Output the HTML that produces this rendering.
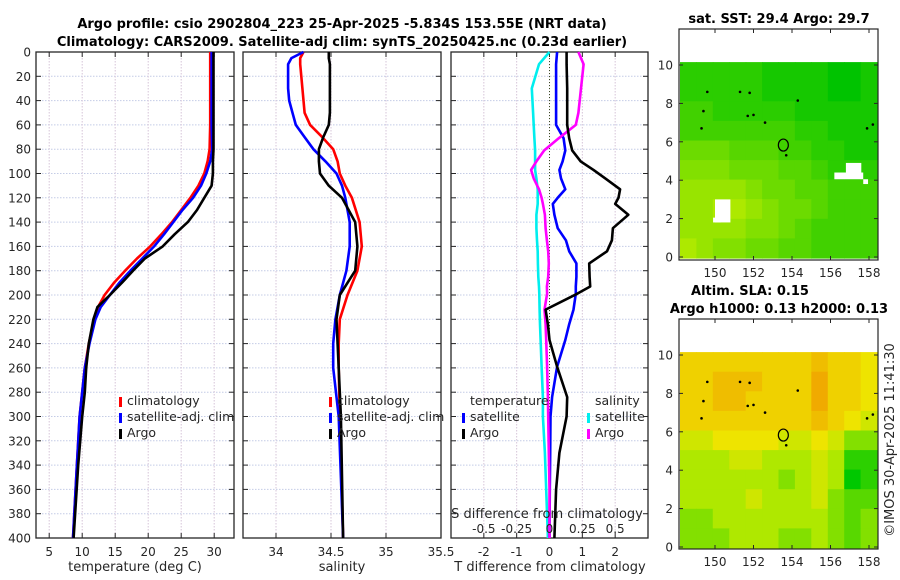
<!DOCTYPE html>
<html><head><meta charset="utf-8"><style>
body{margin:0;background:#fff}
svg{display:block;font-family:"DejaVu Sans","Liberation Sans",sans-serif}
</style></head><body>
<svg id="s" width="900" height="580" viewBox="0 0 900 580" xmlns="http://www.w3.org/2000/svg">
<text x="342" y="28" font-size="13" font-weight="bold" text-anchor="middle">Argo profile: csio 2902804_223 25-Apr-2025 -5.834S 153.55E (NRT data)</text>
<text x="342" y="46" font-size="13" font-weight="bold" text-anchor="middle">Climatology: CARS2009. Satellite-adj clim: synTS_20250425.nc (0.23d earlier)</text>
<text x="779" y="23" font-size="13" font-weight="bold" text-anchor="middle">sat. SST: 29.4 Argo: 29.7</text>
<text x="750" y="295" font-size="13" font-weight="bold" text-anchor="middle">Altim. SLA: 0.15</text>
<text x="779" y="313" font-size="13" font-weight="bold" text-anchor="middle">Argo h1000: 0.13 h2000: 0.13</text>
<text transform="translate(894,440) rotate(-90)" font-size="13" fill="#262626" text-anchor="middle">©IMOS 30-Apr-2025 11:41:30</text>
</svg>
<script>
// ---- data ----
const depths=[0,20,40,60,80,90,100,110,120,130,140,150,160,170,180,190,200,210,220,240,260,280,300,340,400];
const tempClim=[29.4,29.4,29.4,29.4,29.3,29.0,28.5,27.6,26.4,25.0,23.6,22.0,20.3,18.3,16.5,14.8,13.4,12.4,11.8,11.0,10.4,10.0,9.6,9.2,8.6];
const tempSat=[29.6,29.6,29.6,29.6,29.7,29.4,28.8,28.0,26.8,25.2,23.8,22.4,20.9,19.1,17.3,15.6,14.2,12.8,12.0,11.1,10.4,10.0,9.6,9.2,8.6];
const tempArgo=[29.9,29.9,29.9,29.9,29.9,29.8,29.8,29.6,28.5,27.4,26.0,24.0,22.2,19.5,17.7,16.0,14.2,12.3,11.7,11.0,10.6,10.4,10.0,9.4,8.7];
const salDepths=[0,5,10,20,30,40,50,60,70,80,90,100,110,120,140,160,180,200,220,240,260,300,400];
const salClim=[34.25,34.22,34.22,34.23,34.24,34.25,34.26,34.31,34.42,34.52,34.56,34.58,34.63,34.69,34.76,34.78,34.74,34.65,34.58,34.57,34.57,34.58,34.61];
const salSat=[34.25,34.14,34.11,34.11,34.11,34.12,34.15,34.18,34.26,34.34,34.45,34.55,34.60,34.63,34.67,34.67,34.64,34.58,34.54,34.52,34.52,34.57,34.61];
const salArgo=[34.48,34.48,34.49,34.49,34.49,34.49,34.49,34.48,34.43,34.39,34.39,34.40,34.48,34.60,34.72,34.74,34.72,34.58,34.55,34.56,34.57,34.59,34.61];
const diffDepths=[0,10,30,50,60,71,81,90,97,104,113,120,125,134,145,155,164,174,185,193,199,212,224,237,259,284,300,330,360,400];
const dTSat=[0.23,0.2,0.2,0.2,0.2,0.43,0.48,0.4,0.3,0.35,0.48,0.25,0.1,0.15,0.25,0.5,0.6,0.82,0.82,0.8,0.8,0.73,0.6,0.48,0.23,0.08,0.03,0.02,0.01,0.0];
const dTArgo=[0.52,0.52,0.54,0.54,0.54,0.6,0.69,0.95,1.34,1.7,2.15,2.1,2.0,2.4,1.93,1.9,1.75,1.21,1.22,1.24,0.84,-0.12,-0.05,0.0,0.23,0.54,0.52,0.3,0.2,0.15];
const dSSat=[0,-0.08,-0.135,-0.125,-0.12,-0.115,-0.11,-0.11,-0.11,-0.1,-0.09,-0.09,-0.09,-0.1,-0.1,-0.095,-0.09,-0.088,-0.085,-0.08,-0.078,-0.075,-0.072,-0.068,-0.06,-0.05,-0.05,-0.035,-0.025,-0.012];
const dSArgo=[0.22,0.26,0.24,0.22,0.2,0.07,-0.04,-0.1,-0.14,-0.12,-0.08,-0.06,-0.05,-0.035,-0.03,-0.02,-0.01,-0.005,-0.01,-0.02,-0.018,-0.038,-0.03,-0.025,-0.018,-0.012,-0.01,-0.005,0.0,0.0];
const depthTicks=[0,20,40,60,80,100,120,140,160,180,200,220,240,260,280,300,320,340,360,380,400];
const tTicks=[5,10,15,20,25,30];
const sTicks=[34,34.5,35,35.5];
const dTicks=[-2,-1,0,1,2];
const dSTickLabels=["-0.5","-0.25","0","0.25","0.5"];
const dSTickValues=[-0.5,-0.25,0,0.25,0.5];
const lonTicks=[150,152,154,156,158];
const latTicks=[0,2,4,6,8,10];
const sstGrid=[
[2,2,2,2,2,1,1,1,1,0,0,1],
[2,2,2,2,2,1,1,1,1,0,0,1],
[3,3,2,2,2,2,2,1,1,1,1,1],
[3,3,3,3,3,3,3,2,2,1,1,1],
[5,5,5,4,4,4,3,3,2,2,1,1],
[6,6,6,5,5,5,4,4,3,2,2,2],
[7,7,7,7,6,5,5,4,4,3,3,3],
[7,7,8,8,7,6,5,5,4,3,3,3],
[7,7,7,7,6,6,5,4,3,3,3,3],
[8,7,6,6,5,5,4,4,3,3,3,3]];
const slaGrid=[
[7,7,7,7,7,7,7,7,8,7,7,6],
[7,7,8,8,8,7,7,7,9,7,7,6],
[7,7,8,8,7,7,7,7,9,7,7,6],
[7,7,7,7,7,7,7,7,8,7,6,5],
[5,5,6,6,6,6,5,5,6,5,3,3],
[4,4,4,5,5,4,4,4,5,4,1,1],
[4,4,4,4,4,4,3,4,5,4,0,1],
[4,4,4,4,5,4,4,4,5,3,2,2],
[3,3,4,4,4,4,4,4,4,3,2,3],
[3,3,3,4,4,4,3,3,4,3,2,3]];
const argoLon=153.55, argoLat=5.83;

// ---- drawing ----
const S=document.getElementById('s'),NS='http://www.w3.org/2000/svg';
function mk(t,a,p){const e=document.createElementNS(NS,t);for(const k in a)e.setAttribute(k,a[k]);(p||S).appendChild(e);return e;}
const Y0=52,Y1=538;
const yD=d=>Y0+d/400*(Y1-Y0);
function scale(a,b,p0,p1){return v=>p0+(v-a)/(b-a)*(p1-p0);}
const xT=scale(3,33,36,234), xS=scale(33.7,35.5,243,441), xD=scale(-3,3,451,648), xDS=scale(-0.75,0.75,451,648);

function frame(x0,x1,ticks,xf,name){
  const g=mk('g',{});
  
  
  depthTicks.forEach(d=>{
    if(d>0&&d<400){const l=mk('line',{x1:x0,x2:x1,y1:yD(d),y2:yD(d),stroke:'#c4cce6','stroke-width':1,'stroke-dasharray':'1.5,1.5'},g);
    }
    mk('line',{x1:x0,x2:x0+5,y1:yD(d),y2:yD(d),stroke:'#262626'},g);
    mk('line',{x1:x1-5,x2:x1,y1:yD(d),y2:yD(d),stroke:'#262626'},g);
  });
  ticks.forEach(v=>{
    const x=xf(v);
    if(x>x0+1&&x<x1-1){const l=mk('line',{x1:x,x2:x,y1:Y0,y2:Y1,stroke:'#d6c4d8','stroke-width':1,'stroke-dasharray':'1.5,1.5'},g);
    }
    mk('line',{x1:x,x2:x,y1:Y1,y2:Y1-5,stroke:'#262626'},g);
    mk('line',{x1:x,x2:x,y1:Y0,y2:Y0+5,stroke:'#262626'},g);
    const t=mk('text',{x:x,y:556,'font-size':12,fill:'#262626','text-anchor':'middle'},g);t.textContent=String(v);
    
  });
  const r=mk('rect',{x:x0,y:Y0,width:x1-x0,height:Y1-Y0,fill:'none',stroke:'#262626','stroke-width':1.3},g);
  
}
function line(xs,ds,xf,col,name,w){
  const pts=xs.map((v,i)=>xf(v).toFixed(1)+','+yD(ds[i]).toFixed(1)).join(' ');
  const p=mk('polyline',{points:pts,fill:'none',stroke:col,'stroke-width':w||2.6,'stroke-linejoin':'round'});
  
  
}
function txt(x,y,s,name,opt){const t=mk('text',Object.assign({x:x,y:y,'font-size':12.5,fill:'#262626'},opt||{}));t.textContent=s;
  return t;}
function legMark(x,y,col,name){const r=mk('rect',{x:x,y:y-10,width:3,height:10,fill:col});
  }

// y labels
depthTicks.forEach(d=>{const t=txt(31,yD(d)+4.5,String(d),'y-tick-label',{'text-anchor':'end','font-size':12});});

frame(36,234,tTicks,xT,'temperature');
frame(243,441,sTicks,xS,'salinity');
frame(451,648,dTicks,xD,'difference');
// zero line
const z=mk('line',{x1:xD(0),x2:xD(0),y1:Y0,y2:Y1,stroke:'#3a4a20','stroke-width':1,'stroke-dasharray':'1,2'});


line(tempClim,depths,xT,'#ff0000','temp-climatology-line');
line(tempSat,depths,xT,'#0000ff','temp-satellite-line');
line(tempArgo,depths,xT,'#000000','temp-argo-line');
line(salClim,salDepths,xS,'#ff0000','sal-climatology-line');
line(salSat,salDepths,xS,'#0000ff','sal-satellite-line');
line(salArgo,salDepths,xS,'#000000','sal-argo-line');
line(dSSat,diffDepths,xDS,'#00eeee','sdiff-satellite-line');
line(dTSat,diffDepths,xD,'#0000ff','tdiff-satellite-line');
line(dSArgo,diffDepths,xDS,'#ff00ff','sdiff-argo-line');
line(dTArgo,diffDepths,xD,'#000000','tdiff-argo-line');

txt(135,571,'temperature (deg C)','temperature-axis-title',{'text-anchor':'middle','font-size':13});
txt(342,571,'salinity','salinity-axis-title',{'text-anchor':'middle','font-size':13});
txt(550,571,'T difference from climatology','tdiff-axis-title',{'text-anchor':'middle','font-size':13});
txt(547,518,'S difference from climatology','sdiff-axis-title',{'text-anchor':'middle','font-size':13});
dSTickValues.forEach((v,i)=>txt(xDS(v),533,dSTickLabels[i],'sdiff-tick-label',{'text-anchor':'middle','font-size':12}));

// legends
legMark(119,407,'#ff0000','legend-climatology-mark');txt(127,405,'climatology','legend-climatology');
legMark(119,423,'#0000ff','legend-satellite-mark');txt(127,421,'satellite-adj. clim','legend-satellite');
legMark(119,439,'#000000','legend-argo-mark');txt(127,437,'Argo','legend-argo');
legMark(329,407,'#ff0000','legend2-climatology-mark');txt(337,405,'climatology','legend2-climatology');
legMark(329,423,'#0000ff','legend2-satellite-mark');txt(337,421,'satellite-adj. clim','legend2-satellite');
legMark(329,439,'#000000','legend2-argo-mark');txt(337,437,'Argo','legend2-argo');
txt(470,405,'temperature','legend3-temperature-header');
legMark(462,423,'#0000ff','legend3-tsat-mark');txt(470,421,'satellite','legend3-tsat');
legMark(462,439,'#000000','legend3-targo-mark');txt(470,437,'Argo','legend3-targo');
txt(595,405,'salinity','legend3-salinity-header');
legMark(587,423,'#00eeee','legend3-ssat-mark');txt(595,421,'satellite','legend3-ssat');
legMark(587,439,'#ff00ff','legend3-sargo-mark');txt(595,437,'Argo','legend3-sargo');

// maps
function lerp(a,b,t){return a.map((v,i)=>Math.round(v+(b[i]-v)*t));}
function sstColor(v){return 'rgb('+lerp([0,195,0],[195,238,0],v/9).join(',')+')';}
function slaColor(v){
  if(v<=4) return 'rgb('+lerp([0,200,0],[175,232,0],v/4).join(',')+')';
  if(v<=6) return 'rgb('+lerp([175,232,0],[238,228,0],(v-4)/2).join(',')+')';
  return 'rgb('+lerp([238,228,0],[240,170,0],(v-6)/3).join(',')+')';}
function map(grid,colf,top,bottom,lat0y,lat10y,name){
  const x0=679,x1=878,lx=lon=>715+(lon-150)*19.25, ly=lat=>lat0y+(lat10y-lat0y)*lat/10;
  const dataTop=ly(10.15), dataBot=ly(0)+1;
  const cw=(x1-1-(x0+1))/12, ch=(dataBot-dataTop)/10;
  grid.forEach((row,r)=>row.forEach((v,c)=>{
    const e=mk('rect',{x:(x0+1+c*cw).toFixed(1),y:(dataTop+r*ch).toFixed(1),width:(cw+0.6).toFixed(1),height:(ch+0.6).toFixed(1),fill:colf(v)});
    
    
  }));
  if(name==='sst-map'){
    [[150,1.8,0.8,1.2],[149.9,1.8,0.4,0.25],[156.2,4.05,1.5,0.35],[156.8,4.2,0.8,0.7],[157.7,3.8,0.25,0.25]].forEach(b=>{
      const e=mk('rect',{x:lx(b[0]),y:ly(b[1]+b[3]),width:b[2]*19.25,height:b[3]*(lat0y-lat10y)/10,fill:'#fff'});
      });
  }
  [[149.6,8.6],[151.3,8.6],[151.8,8.55],[154.3,8.15],[151.7,7.35],[152,7.4],[152.6,7.0],[149.3,6.7],[158.2,6.9],[157.9,6.7],[153.7,5.3],[149.4,7.6]].forEach(p=>{
    const e=mk('circle',{cx:lx(p[0]),cy:ly(p[1]),r:1.3,fill:'#000'});
    });
  const c=mk('ellipse',{cx:lx(argoLon),cy:ly(argoLat),rx:5,ry:6,fill:'none',stroke:'#000','stroke-width':1.2});
  
  const fr=mk('rect',{x:x0,y:top,width:x1-x0,height:bottom-top,fill:'none',stroke:'#262626','stroke-width':1.2});
  
  lonTicks.forEach(l=>{mk('line',{x1:lx(l),x2:lx(l),y1:bottom,y2:bottom-4,stroke:'#262626'});mk('line',{x1:lx(l),x2:lx(l),y1:top,y2:top+4,stroke:'#262626'});
    txt(lx(l),bottom+17,String(l),name+'-lon-label',{'text-anchor':'middle','font-size':12});});
  latTicks.forEach(l=>{mk('line',{x1:x0,x2:x0+4,y1:ly(l),y2:ly(l),stroke:'#262626'});mk('line',{x1:x1-4,x2:x1,y1:ly(l),y2:ly(l),stroke:'#262626'});
    txt(x0-6,ly(l)+4.5,String(l),name+'-lat-label',{'text-anchor':'end','font-size':12});});
}
map(sstGrid,sstColor,29,260,257,65,'sst-map');
map(slaGrid,slaColor,319,549,547,355,'sla-map');
</script>
</body></html>
